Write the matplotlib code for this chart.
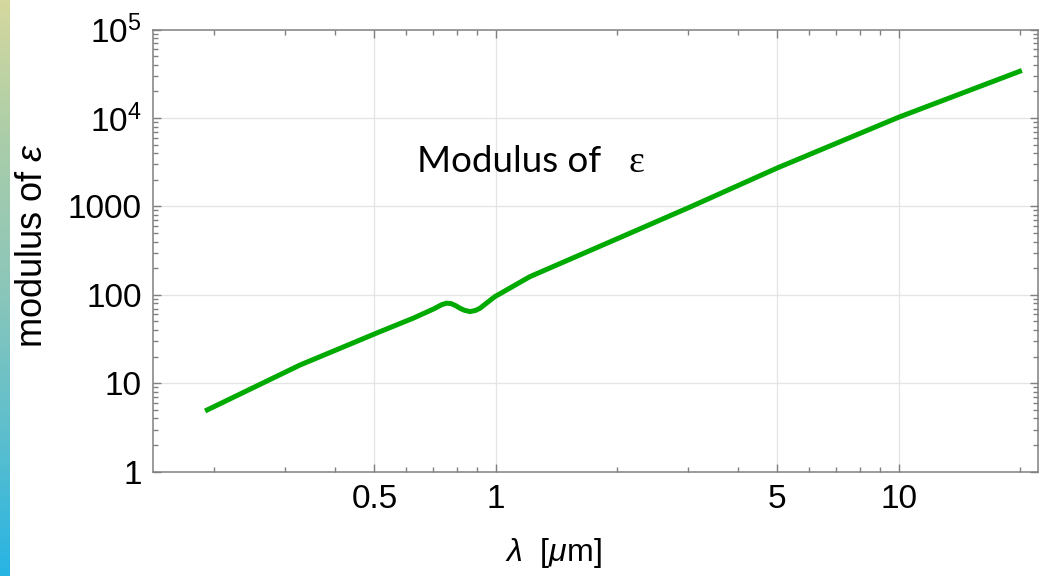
import numpy as np
import matplotlib
matplotlib.use("Agg")
import matplotlib.pyplot as plt
from matplotlib.ticker import FixedLocator, NullFormatter
from matplotlib.colors import LinearSegmentedColormap

# values (wavelength in um, |eps|)
wavelength = [0.19, 0.25, 0.327, 0.40, 0.516, 0.624, 0.70, 0.735, 0.755, 0.775,
              0.795, 0.815, 0.835, 0.863, 0.89, 0.914, 0.95, 0.995, 1.216, 1.618,
              2.0, 3.06, 5.0, 10.0, 20.2]
modulus = [4.86, 8.9, 16.1, 23.6, 38.3, 54.4, 69.0, 77.5, 80.4, 79.5,
           75.5, 70.5, 67.0, 64.6, 66.5, 70.5, 81.0, 95.4, 160.7, 282.7,
           430.0, 1000.0, 2725.0, 10200.0, 34400.0]

x_major = [0.5, 1, 5, 10]
x_major_labels = ["0.5", "1", "5", "10"]
x_minor = [0.2, 0.3, 0.4, 0.6, 0.7, 0.8, 0.9, 2, 3, 4, 6, 7, 8, 9, 20]
y_major = [1, 10, 100, 1000, 1e4, 1e5]
y_major_labels = ["1", "10", "100", "1000", r"$10^4$", r"$10^5$"]
y_minor = [m * 10 ** d for d in range(5) for m in range(2, 10)]

plt.rcParams["font.family"] = ["Liberation Sans", "DejaVu Sans"]
plt.rcParams["mathtext.fontset"] = "custom"
plt.rcParams["mathtext.rm"] = "Liberation Sans"
plt.rcParams["mathtext.it"] = "Liberation Sans:italic"

W, H = 1039, 576
fig = plt.figure(figsize=(W / 100, H / 100), dpi=100)

# slide accent strip on the left
strip = fig.add_axes([0, 0, 10 / W, 1])
cmap = LinearSegmentedColormap.from_list(
    "strip", ["#d5d89e", "#a9cdaa", "#8cc6b9", "#5ebfcd", "#27b4e4"])
strip.imshow(np.linspace(0, 1, 256).reshape(-1, 1), aspect="auto", cmap=cmap)
strip.axis("off")

gray = "#808080"
ax = fig.add_axes([153 / W, 1 - 471.7 / H, (1038 - 153) / W, (471.7 - 29.5) / H])
ax.set_xscale("log")
ax.set_yscale("log")
ax.set_xlim(0.1411, 22.15)
ax.set_ylim(1, 1e5)

ax.plot(wavelength, modulus, color="#00aa00", lw=3.6, solid_capstyle="butt",
        solid_joinstyle="round", zorder=3)

for v in x_major:
    ax.axvline(v, color="#e4e4e4", lw=0.9, zorder=1)
for v in y_major[1:-1]:
    ax.axhline(v, color="#e4e4e4", lw=0.9, zorder=1)

ax.xaxis.set_major_locator(FixedLocator(x_major))
ax.xaxis.set_minor_locator(FixedLocator(x_minor))
ax.set_xticklabels(x_major_labels)
ax.xaxis.set_minor_formatter(NullFormatter())
ax.yaxis.set_major_locator(FixedLocator(y_major))
ax.yaxis.set_minor_locator(FixedLocator(y_minor))
ax.set_yticklabels(y_major_labels)
ax.yaxis.set_minor_formatter(NullFormatter())

ax.tick_params(which="both", direction="in", top=True, right=True, color=gray,
               width=1.0, labelsize=24, labelcolor="black")
ax.tick_params(axis="x", which="major", length=6, pad=9)
ax.tick_params(axis="y", which="major", length=6, pad=8)
ax.tick_params(which="minor", length=3.6)
for s in ax.spines.values():
    s.set_color(gray)
    s.set_linewidth(1.1)

# axis titles placed in figure pixels
fig.text(553 / W, 1 - 553 / H, r"$\lambda$  [$\mu$m]", fontsize=23,
         ha="center", va="center")
fig.text(33 / W, 1 - 245 / H, r"modulus of $\varepsilon$", fontsize=26,
         rotation=90, ha="center", va="center")

fig.text(417 / W, 1 - 172 / H, "Modulus of", fontsize=26.5, family="Lato",
         va="baseline", ha="left")
fig.text(629 / W, 1 - 172 / H, "\u03b5", fontsize=27, family="Liberation Serif",
         va="baseline", ha="left")

fig.savefig("out.png", dpi=100)
